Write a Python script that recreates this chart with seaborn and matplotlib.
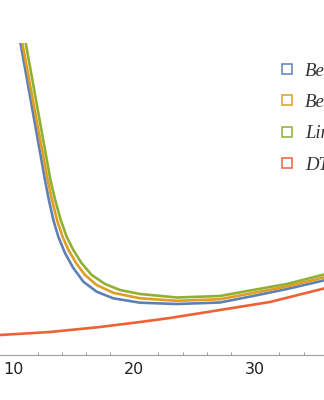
import matplotlib
matplotlib.use("Agg")
import matplotlib.pyplot as plt
import seaborn as sns
import pandas as pd
from matplotlib.lines import Line2D

# ---- data ----
series_names = ["Bernstein", "Bezier", "Linear", "DTW"]
colors = ["#5E81B5", "#E19C24", "#8FB032", "#EB6235"]

blue_x = [10.52, 12.62, 12.94, 13.31, 13.72, 14.27, 14.96, 15.79, 16.89, 18.26,
          20.47, 23.53, 27.08, 29.81, 32.62, 36.17]
blue_y = [31.7, 17.5, 15.5, 13.5, 11.83, 10.2, 8.7, 7.33, 6.33, 5.67,
          5.23, 5.1, 5.25, 5.9, 6.6, 7.6]

orange_x = [10.67, 12.84, 13.20, 13.61, 14.07, 14.56, 15.20, 15.93, 16.89, 18.26,
            20.47, 23.53, 27.08, 29.81, 32.62, 36.17]
orange_y = [31.7, 17.5, 15.5, 13.5, 11.83, 10.5, 9.17, 8.0, 7.0, 6.22,
            5.67, 5.42, 5.58, 6.2, 6.85, 7.9]

green_x = [10.95, 13.07, 13.46, 13.92, 14.41, 14.96, 15.65, 16.48, 17.58, 18.82,
           20.47, 23.53, 27.08, 29.81, 32.62, 36.17]
green_y = [31.7, 17.5, 15.5, 13.5, 11.83, 10.5, 9.17, 8.0, 7.1, 6.5,
           6.1, 5.75, 5.9, 6.5, 7.1, 8.2]

red_x = [8.5, 8.90, 13.03, 17.17, 20.47, 22.95, 27.08, 31.21, 36.17]
red_y = [1.95, 2.0, 2.3, 2.8, 3.3, 3.7, 4.5, 5.3, 6.8]

major_ticks = [10, 20, 30]
minor_ticks = [12, 14, 16, 18, 22, 24, 26, 28, 32, 34]

frames = []
for name, xs, ys in zip(series_names,
                        [blue_x, orange_x, green_x, red_x],
                        [blue_y, orange_y, green_y, red_y]):
    frames.append(pd.DataFrame({"x": xs, "y": ys, "series": name}))
df = pd.concat(frames, ignore_index=True)

sns.set_theme(style="white")
fig = plt.figure(figsize=(3.24, 4.0), dpi=100)
ax = fig.add_axes([0.0, 45 / 400, 1.0, 312 / 400])

sns.lineplot(data=df, x="x", y="y", hue="series", hue_order=series_names,
             palette=colors, linewidth=1.9, legend=False, ax=ax,
             estimator=None, sort=False)
for ln in ax.get_lines():
    ln.set_solid_joinstyle("round")

ax.set_xlim(8.90, 35.68)
ax.set_ylim(0, 31.2)
ax.set_xlabel("")
ax.set_ylabel("")
ax.set_yticks([])
ax.set_xticks(major_ticks)
ax.set_xticks(minor_ticks, minor=True)
ax.set_xticklabels([str(t) for t in major_ticks])
for side in ["top", "left", "right"]:
    ax.spines[side].set_visible(False)
ax.spines["bottom"].set_color("#a0a0a0")
ax.spines["bottom"].set_linewidth(0.8)
ax.tick_params(axis="x", which="major", direction="in", length=4, width=0.8,
               color="#a0a0a0", labelsize=11.5, labelcolor="#222222", pad=5)
ax.tick_params(axis="x", which="minor", direction="in", length=2.5, width=0.7,
               color="#a0a0a0", bottom=True)
ax.patch.set_alpha(0)

handles = [Line2D([], [], linestyle="none", marker="s", markersize=7.5,
                  markerfacecolor="white", markeredgecolor=c, markeredgewidth=1.1)
           for c in colors]
leg = fig.legend(handles, series_names, loc="upper left",
                 bbox_to_anchor=(281 / 324, 1 - 62.5 / 400),
                 bbox_transform=fig.transFigure, frameon=False,
                 borderpad=0, borderaxespad=0, handlelength=0.65,
                 handletextpad=0.62, labelspacing=0.76,
                 prop={"family": "Liberation Serif", "style": "italic", "size": 13.5})
for t in leg.get_texts():
    t.set_color("#333333")

fig.savefig("out.png", dpi=100)
